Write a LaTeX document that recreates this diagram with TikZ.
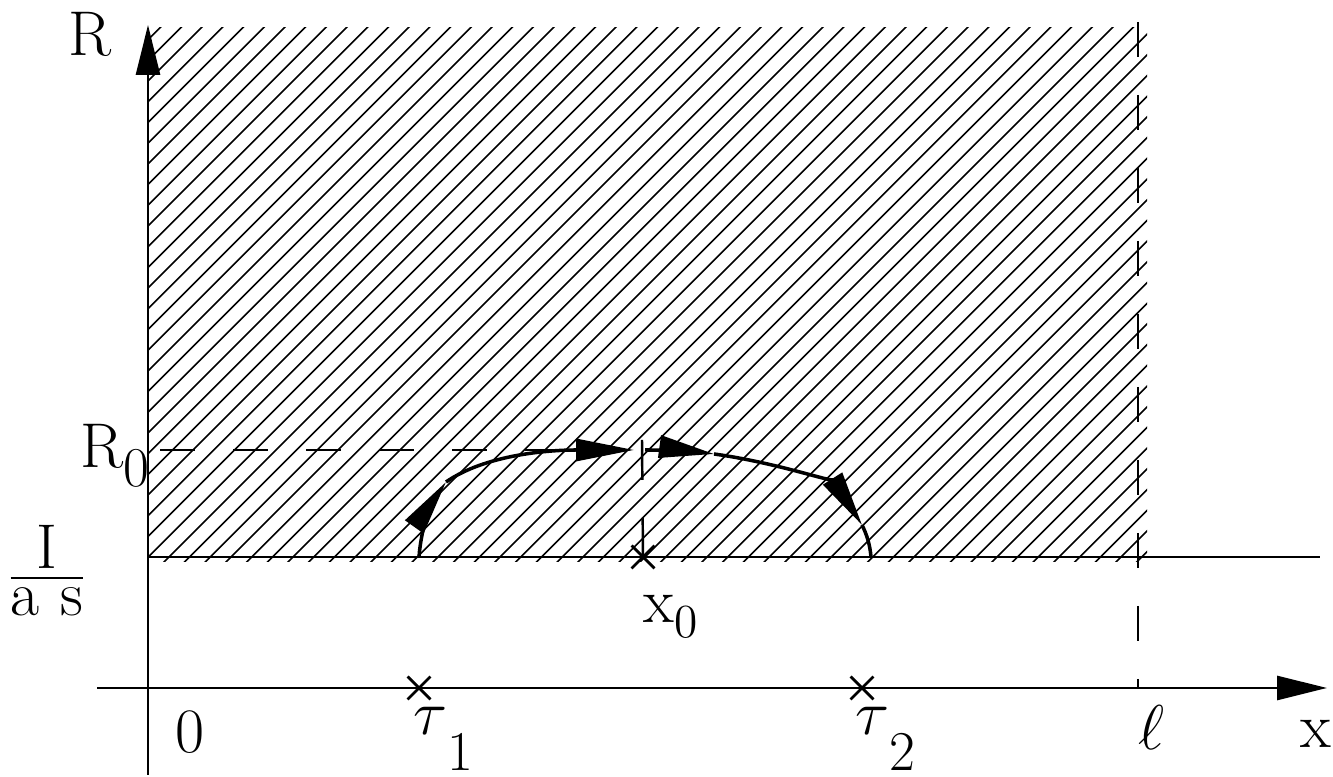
\RequirePackage{fix-cm}
\documentclass[tikz,border=0pt]{standalone}
\usepackage{amsmath}
\usepackage{fontspec}
\usetikzlibrary{arrows.meta, shapes.misc}

\tikzset{
    axis/.style={line width=0.8pt, -{Triangle[length=5mm, width=2.4mm]}},
    hatch/.style={line width=0.45pt},
    guide/.style={line width=0.7pt, dash pattern=on 0.35cm off 0.38cm},
    orbit/.style={line width=1pt},
    tipped/.style={-{Triangle[length=5.5mm, width=2.2mm]}},
    lbl/.style={inner sep=0pt, font=\fontsize{18}{21}\selectfont},
    crossmark/.style={draw, cross out, line width=0.8pt, inner sep=0pt, minimum size=2mm},
}
\newcommand{\lowsub}[3]{\raisebox{-#1}{\fontsize{#2}{#2}\selectfont #3}}

\begin{document}
\begin{tikzpicture}
    \useasboundingbox (0,0) rectangle (13.33,7.77);

    % axes
    \coordinate (ybot) at (1.48,0.02);
    \coordinate (ytop) at (1.48,7.52);
    \coordinate (xleft) at (0.97,0.89);
    \coordinate (xright) at (13.27,0.89);
    \coordinate (low) at (1.48,2.20);
    \coordinate (lowend) at (13.20,2.20);

    % hatched region
    \begin{scope}
        \clip (1.48,2.15) rectangle (11.47,7.49);
        \foreach \s in {-4.0,-3.793,...,11.5}
            \draw[hatch] (\s,2.1) -- ++(5.5,5.5);
    \end{scope}

    \draw[axis] (ybot) -- (ytop);
    \draw[axis] (xleft) -- (xright);
    \draw[line width=0.8pt] (low) -- (lowend);

    % ell line and R0 line
    \coordinate (elltop) at (11.38,7.55);
    \coordinate (ellbot) at (11.38,0.89);
    \draw[guide] (elltop) -- (ellbot);
    \coordinate (rzero) at (1.60,3.27);
    \coordinate (rzeroend) at (6.25,3.27);
    \draw[guide] (rzero) -- (rzeroend);

    % marked points
    \node[crossmark] (x0) at (6.43,2.20) {};
    \node[crossmark] (t1) at (4.19,0.89) {};
    \node[crossmark] (t2) at (8.62,0.89) {};
    \coordinate (x0top) at (6.42,3.37);
    \draw[line width=0.7pt, dash pattern=on 0.4cm off 0.38cm] (x0top) -- (x0.center);

    % trajectories
    \coordinate (leftin) at (4.19,2.20);
    \coordinate (leftmid) at (4.46,2.95);
    \coordinate (lefttop) at (6.34,3.27);
    \coordinate (righttop) at (6.45,3.27);
    \coordinate (rightmid) at (7.14,3.23);
    \coordinate (rightlow) at (8.62,2.52);
    \coordinate (rightout) at (8.71,2.20);
    \draw[orbit, tipped] (leftin) .. controls (4.21,2.50) and (4.34,2.78) .. (leftmid);
    \draw[orbit, -{Triangle[length=5.8mm, width=2.2mm]}] (leftmid) .. controls (4.85,3.22) and (5.47,3.27) .. (lefttop);
    \draw[orbit, tipped] (righttop) .. controls (6.69,3.27) and (6.92,3.26) .. (rightmid);
    \draw[orbit, tipped] (rightmid) .. controls (7.79,3.14) and (8.36,2.93) .. (rightlow);
    \draw[orbit] (rightlow) .. controls (8.67,2.42) and (8.70,2.32) .. (rightout);

    % labels
    \node[lbl] (rlab) at (0.90,7.43) {R};
    \node[lbl, anchor=base west] (r0lab) at (0.80,3.09) {R\lowsub{5.4pt}{16}{0}};
    \node[lbl] (ratio) at (0.47,2.06) {$\frac{\mbox{I}}{\mbox{a\hspace{6pt}s}}$};
    \node[lbl, anchor=base] (zero) at (1.90,0.24) {0};
    \node[lbl, anchor=base west] (x0lab) at (6.43,1.54) {x\lowsub{4pt}{13.5}{0}};
    \node[lbl, anchor=base west] (t1lab) at (4.13,0.42) {$\tau$\lowsub{10pt}{16}{1}};
    \node[lbl, anchor=base west] (t2lab) at (8.55,0.42) {$\tau$\lowsub{10pt}{16}{2}};
    \node[lbl, anchor=base west] (elllab) at (11.38,0.27) {$\ell$};
    \node[lbl, anchor=base west] (xlab) at (13.00,0.29) {x};
\end{tikzpicture}
\end{document}
